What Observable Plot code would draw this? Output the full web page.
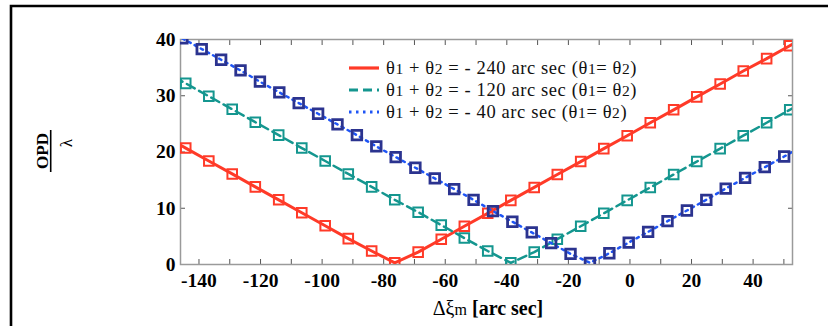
<!DOCTYPE html>
<html><head><meta charset="utf-8">
<script src="https://cdn.jsdelivr.net/npm/d3@7"></script>
<script src="https://cdn.jsdelivr.net/npm/@observablehq/plot@0.6"></script>
<style>
body{margin:0;background:#fff;}
#wrap{position:relative;width:828px;height:326px;overflow:hidden;font-family:"Liberation Serif",Tinos,"DejaVu Serif",serif;}
#wrap > svg{position:absolute;left:0;top:0;}
#overlay{pointer-events:none;}
</style></head>
<body>
<div id="wrap"></div>
<script>
// ---- data ----
const xRedTeal = [-151.9, -144.3, -136.8, -129.2, -121.7, -114.1, -106.6, -99.0, -91.5, -83.9, -76.4,
  -68.8, -61.3, -53.8, -46.2, -38.7, -31.1, -23.6, -16.0, -8.5, -0.9, 6.6, 14.2, 21.7, 29.3, 36.8, 44.4, 51.9, 59.4];
const opdRed = [23.0, 20.7, 18.4, 16.1, 13.8, 11.5, 9.2, 6.9, 4.6, 2.4, 0.3,
  2.2, 4.5, 6.8, 9.1, 11.4, 13.7, 16.0, 18.3, 20.6, 22.9, 25.2, 27.5, 29.8, 32.1, 34.4, 36.6, 38.9, 41.2];
const opdTeal = [34.5, 32.2, 29.9, 27.6, 25.3, 23.0, 20.7, 18.4, 16.1, 13.8, 11.5,
  9.3, 7.0, 4.7, 2.4, 0.3, 2.2, 4.5, 6.8, 9.1, 11.4, 13.7, 16.0, 18.3, 20.6, 22.9, 25.2, 27.5, 29.7];
const xBlue = [-145.4, -139.1, -132.8, -126.5, -120.2, -113.9, -107.6, -101.3, -95.0, -88.7, -82.4,
  -76.1, -69.7, -63.4, -57.1, -50.8, -44.5, -38.2, -31.9, -25.6, -19.3, -13.0, -6.7, -0.4, 5.9,
  12.2, 18.5, 24.8, 31.1, 37.4, 43.8, 50.1, 56.4];
const opdBlue = [40.2, 38.3, 36.4, 34.5, 32.5, 30.6, 28.7, 26.8, 24.9, 23.0, 21.0,
  19.1, 17.2, 15.3, 13.4, 11.5, 9.5, 7.6, 5.7, 3.8, 1.9, 0.3, 2.0, 3.9, 5.8,
  7.7, 9.6, 11.5, 13.5, 15.4, 17.3, 19.2, 21.1];
const xTicks = [-140, -130, -120, -110, -100, -90, -80, -70, -60, -50, -40, -30, -20, -10, 0, 10, 20, 30, 40, 50];
const xTickLabels = [-140, -120, -100, -80, -60, -40, -20, 0, 20, 40];
const yTicks = [0, 10, 20, 30, 40];
const seriesNames = [
  "θ1 + θ2 = - 240 arc sec (θ1= θ2)",
  "θ1 + θ2 = - 120 arc sec (θ1= θ2)",
  "θ1 + θ2 = - 40 arc sec (θ1= θ2)"
];
const seriesColors = ["#ff3a28", "#14968f", "#1f55f5"];
const markerColors = ["#ff3a28", "#14968f", "#2b338f"];
const dashes = [null, "9,5", "2.5,4.5"];
const xLabel = ["Δξ", "m", " [arc sec]"];

// ---- build tables ----
const red = xRedTeal.map((x, i) => ({x, y: opdRed[i]}));
const teal = xRedTeal.map((x, i) => ({x, y: opdTeal[i]}));
const blue = xBlue.map((x, i) => ({x, y: opdBlue[i]}));
const fmt = d => d < 0 ? "-" + (-d) : String(d);
const FONT = '"Liberation Serif", Tinos, "DejaVu Serif", serif';

const chart = Plot.plot({
  width: 828, height: 326,
  marginLeft: 180, marginRight: 36, marginTop: 39, marginBottom: 62,
  x: {domain: [-146, 52.8]},
  y: {domain: [0, 40]},
  style: {fontFamily: FONT, fontSize: "19.5px", fontWeight: "bold", color: "#000", background: "transparent"},
  marks: [
    Plot.axisX({ticks: xTicks, tickSize: -5, tickPadding: 14, stroke: "#555",
      tickFormat: d => xTickLabels.includes(d) ? fmt(d) : "", label: null}),
    Plot.axisX({anchor: "top", ticks: xTicks, tickSize: -5, stroke: "#555", tickFormat: () => "", label: null}),
    Plot.axisY({ticks: yTicks, tickSize: -5, tickPadding: 10, stroke: "#555", tickFormat: fmt, label: null}),
    Plot.axisY({anchor: "right", ticks: yTicks, tickSize: -5, stroke: "#555", tickFormat: () => "", label: null}),
    Plot.frame({stroke: "#9a9a9a", strokeWidth: 1.5}),
    Plot.line(red, {x: "x", y: "y", stroke: seriesColors[0], strokeWidth: 3, clip: true}),
    Plot.dot(red, {x: "x", y: "y", symbol: "square", r: 5.4, stroke: markerColors[0], strokeWidth: 2, fill: "none", clip: true}),
    Plot.line(teal, {x: "x", y: "y", stroke: seriesColors[1], strokeWidth: 2.5, strokeDasharray: dashes[1], clip: true}),
    Plot.dot(teal, {x: "x", y: "y", symbol: "square", r: 5.4, stroke: markerColors[1], strokeWidth: 2, fill: "none", clip: true}),
    Plot.line(blue, {x: "x", y: "y", stroke: seriesColors[2], strokeWidth: 2.5, strokeDasharray: dashes[2], clip: true}),
    Plot.dot(blue, {x: "x", y: "y", symbol: "square", r: 5.4, stroke: markerColors[2], strokeWidth: 2.8, fill: "none", clip: true})
  ]
});
const wrap = document.getElementById("wrap");
wrap.appendChild(chart);

// ---- overlay: border, axis titles, legend ----
const ov = d3.select(wrap).append("svg").attr("id", "overlay").attr("width", 828).attr("height", 326)
  .attr("font-family", FONT);
ov.append("path").attr("d", "M11,330V6H830").attr("fill", "none").attr("stroke", "#000").attr("stroke-width", 2.6);

// y title: OPD / λ rotated
const yt = ov.append("g").attr("transform", "translate(50,151) rotate(-90)");
yt.append("text").attr("x", 0).attr("y", -2).attr("text-anchor", "middle").attr("font-size", 17).attr("font-weight", "bold").text("OPD");
yt.append("line").attr("x1", -21).attr("x2", 21).attr("y1", 0.7).attr("y2", 0.7).attr("stroke", "#000").attr("stroke-width", 1.6);
yt.append("text").attr("x", 8).attr("y", 22).attr("text-anchor", "middle").attr("font-size", 17).text("λ");

// x title
const xt = ov.append("text").attr("x", 488).attr("y", 315).attr("text-anchor", "middle").attr("font-size", 20);
xt.append("tspan").text(xLabel[0]);
xt.append("tspan").attr("font-size", 16).text(xLabel[1]);
xt.append("tspan").attr("font-weight", "bold").text(xLabel[2]);

// legend
const rowsY = [68, 90, 112];
seriesNames.forEach((name, i) => {
  const g = ov.append("g").attr("transform", `translate(0,${rowsY[i]})`);
  g.append("line").attr("x1", 349).attr("x2", 379).attr("y1", 0).attr("y2", 0)
    .attr("stroke", seriesColors[i]).attr("stroke-width", i === 0 ? 3.2 : 3)
    .attr("stroke-dasharray", dashes[i]);
  const t = g.append("text").attr("x", 386).attr("y", 6).attr("font-size", 18.5)
    .attr("letter-spacing", 0.6).attr("fill", "#111");
  // digits right after θ are drawn a little smaller, as in the reference
  name.split(/(?<=θ)(\d)/).forEach(part => {
    if (/^\d$/.test(part)) t.append("tspan").attr("font-size", 15.5).text(part);
    else t.append("tspan").text(part);
  });
});
</script>
</body></html>
